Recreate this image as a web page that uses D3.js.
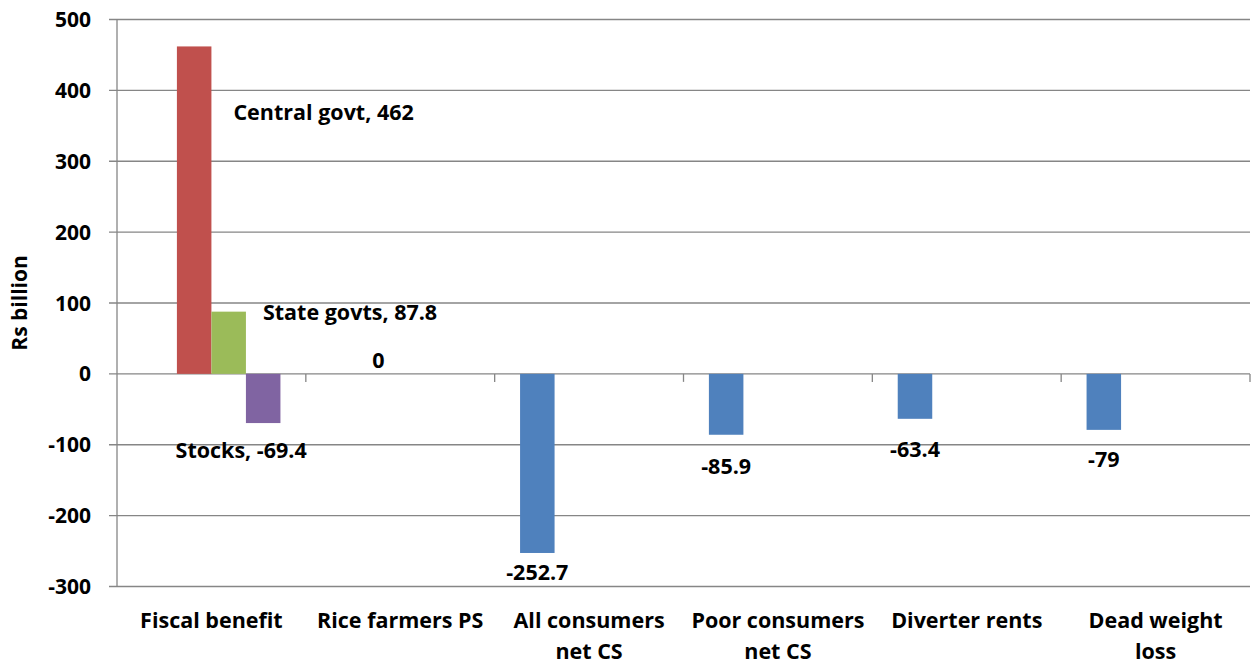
<!DOCTYPE html>
<html>
<head>
<meta charset="utf-8">
<script src="https://cdn.jsdelivr.net/npm/d3@7"></script>
<style>
    body { margin: 0; background: #fff; }
    text { font-family: "Open Sans", Lato, sans-serif; font-weight: bold; fill: #000; }
    .grid line { stroke: #868686; stroke-width: 1.3; }
</style>
</head>
<body>
<div id="chart"></div>
<script>
// categories and series values (Rs billion)
var categories = ["Fiscal benefit", "Rice farmers PS", "All consumers net CS", "Poor consumers net CS", "Diverter rents", "Dead weight loss"];
var categoryLines = [["Fiscal benefit"], ["Rice farmers PS"], ["All consumers", "net CS"], ["Poor consumers", "net CS"], ["Diverter rents"], ["Dead weight", "loss"]];
var seriesNames = ["Welfare", "Central govt", "State govts", "Stocks"];
var welfare = [null, 0, -252.7, -85.9, -63.4, -79];
var centralGovt = [462, null, null, null, null, null];
var stateGovts = [87.8, null, null, null, null, null];
var stocks = [-69.4, null, null, null, null, null];
var yTicks = [-300, -200, -100, 0, 100, 200, 300, 400, 500];
var colors = ["#4F81BD", "#C0504D", "#9BBB59", "#8064A2"];

(function() {
    var width = 1251, height = 668;
    var margin = {top: 19.5, right: 1, bottom: 81.5, left: 117};
    var fs = "21.5px";

    var svg = d3.select("#chart").append("svg")
        .attr("width", width)
        .attr("height", height);

    var x0 = d3.scaleBand()
        .domain(categories)
        .range([margin.left, width - margin.right])
        .paddingInner(0.269)
        .paddingOuter(0.1345);

    var x1 = d3.scaleBand()
        .domain(seriesNames)
        .range([0, x0.bandwidth()]);

    var y = d3.scaleLinear()
        .domain([-300, 500])
        .range([height - margin.bottom, margin.top]);

    // gridlines
    var grid = svg.append("g").classed("grid", true);
    grid.selectAll(".h")
        .data(yTicks)
        .enter()
        .append("line")
            .attr("x1", margin.left - 8)
            .attr("x2", width - margin.right)
            .attr("y1", function(d) { return y(d); })
            .attr("y2", function(d) { return y(d); });

    grid.append("line")
        .attr("x1", margin.left).attr("x2", margin.left)
        .attr("y1", y(500)).attr("y2", y(-300));

    // category tick marks on zero line
    var step = x0.step();
    grid.selectAll(".ct")
        .data(d3.range(1, categories.length + 1))
        .enter()
        .append("line")
            .attr("x1", function(i) { return margin.left + i * step; })
            .attr("x2", function(i) { return margin.left + i * step; })
            .attr("y1", y(0))
            .attr("y2", y(0) + 8);

    // y tick labels
    svg.append("g").selectAll("text")
        .data(yTicks)
        .enter()
        .append("text")
            .attr("x", 91)
            .attr("y", function(d) { return y(d); })
            .attr("dy", "0.36em")
            .attr("text-anchor", "end")
            .style("font-size", "21px")
            .text(function(d) { return d; });

    svg.append("text")
        .attr("transform", "translate(27," + ((y(500) + y(-300)) / 2) + ") rotate(-90)")
        .attr("text-anchor", "middle")
        .style("font-size", "21px")
        .text("Rs billion");

    // category labels
    var catLabels = svg.append("g").selectAll("text")
        .data(categories)
        .enter()
        .append("text")
            .attr("text-anchor", "middle")
            .attr("x", function(d) { return x0(d) + x0.bandwidth() / 2; })
            .attr("y", 628)
            .style("font-size", fs);

    catLabels.each(function(d, i) {
        var t = d3.select(this);
        categoryLines[i].forEach(function(line, j) {
            t.append("tspan")
                .attr("x", x0(d) + x0.bandwidth() / 2)
                .attr("dy", j === 0 ? 0 : 31)
                .text(line);
        });
    });

    // bars
    var seriesData = [welfare, centralGovt, stateGovts, stocks];
    var bars = [];
    seriesData.forEach(function(values, s) {
        values.forEach(function(v, i) {
            if (v === null) return;
            bars.push({series: seriesNames[s], s: s, cat: categories[i], value: v});
        });
    });

    svg.append("g").selectAll("rect")
        .data(bars.filter(function(d) { return d.value !== 0; }))
        .enter()
        .append("rect")
            .attr("x", function(d) { return x0(d.cat) + x1(d.series); })
            .attr("width", x1.bandwidth())
            .attr("y", function(d) { return y(Math.max(0, d.value)); })
            .attr("height", function(d) { return Math.abs(y(d.value) - y(0)); })
            .style("fill", function(d) { return colors[d.s]; });

    // data labels (hand-placed like the original)
    var labelPos = {
        "Central govt": {dx: 22, dy: 74, anchor: "start", text: function(d) { return "Central govt, " + d.value; }},
        "State govts": {dx: 17, dy: 8, anchor: "start", text: function(d) { return "State govts, " + d.value; }},
        "Stocks": {dx: -22, dy: 35, anchor: "middle", text: function(d) { return "Stocks, " + d.value; }}
    };
    var welfareDy = {"Rice farmers PS": -6, "All consumers net CS": 27, "Poor consumers net CS": 39, "Diverter rents": 38, "Dead weight loss": 37};

    svg.append("g").selectAll("text")
        .data(bars)
        .enter()
        .append("text")
            .style("font-size", fs)
            .attr("text-anchor", function(d) { return labelPos[d.series] ? labelPos[d.series].anchor : "middle"; })
            .attr("x", function(d) {
                var bx = x0(d.cat) + x1(d.series);
                if (d.series === "Central govt" || d.series === "State govts") return bx + x1.bandwidth() + labelPos[d.series].dx;
                if (d.series === "Stocks") return bx + x1.bandwidth() / 2 + labelPos[d.series].dx;
                if (d.value === 0) return bx + x1.bandwidth() / 2 + 30;
                return bx + x1.bandwidth() / 2;
            })
            .attr("y", function(d) {
                if (labelPos[d.series]) return y(d.value) + labelPos[d.series].dy;
                return y(d.value) + welfareDy[d.cat];
            })
            .text(function(d) { return labelPos[d.series] ? labelPos[d.series].text(d) : d.value; });
})();
</script>
</body>
</html>
